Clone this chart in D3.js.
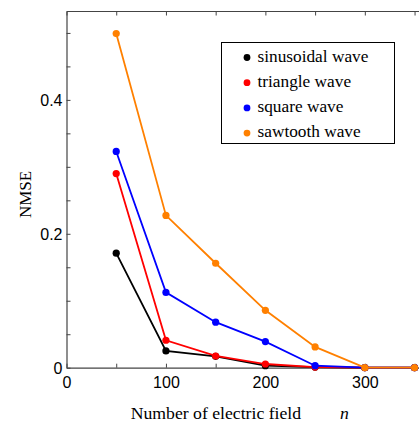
<!DOCTYPE html>
<html><head><meta charset="utf-8">
<script src="https://cdn.jsdelivr.net/npm/d3@7"></script>
<style>body{margin:0;background:#fff;}svg{display:block;}
.sans{font-family:"Liberation Sans", Arial, sans-serif;}
.serif{font-family:"Liberation Serif", "Times New Roman", serif;}
</style>
</head><body>
<svg id="c" width="419" height="423"></svg>
<script>
const nValues = [50, 100, 150, 200, 250, 300, 350];
const sinusoidal = [0.171, 0.025, 0.017, 0.003, 0.001, 0, 0];
const triangle = [0.290, 0.041, 0.0175, 0.0055, 0.001, 0, 0];
const square = [0.323, 0.1125, 0.068, 0.039, 0.003, 0, 0];
const sawtooth = [0.499, 0.2275, 0.156, 0.0857, 0.031, 0, 0];
const seriesNames = ["sinusoidal wave", "triangle wave", "square wave", "sawtooth wave"];
const seriesColors = ["#000000", "#ff0000", "#0000ff", "#ff8000"];
const xTickLabels = [0, 100, 200, 300];
const yTickLabels = [0, 0.2, 0.4];

const series = [sinusoidal, triangle, square, sawtooth];
const svg = d3.select("#c");
const L = 66.5, T = 11.5, B = 367.7, R = 423;
const x = d3.scaleLinear().domain([0, 358.5]).range([L, R]);
const y = d3.scaleLinear().domain([0, 0.532]).range([B, T]);
const axisColor = "#444";

// frame
svg.append("line").attr("x1", L).attr("x2", R).attr("y1", T).attr("y2", T).attr("stroke", axisColor).attr("stroke-width", 1.2);
svg.append("line").attr("x1", R).attr("x2", R).attr("y1", T).attr("y2", B).attr("stroke", axisColor).attr("stroke-width", 1.2);

// bottom axis
const xAxis = d3.axisBottom(x).tickValues(d3.range(0, 351, 50)).tickSizeInner(-4).tickSizeOuter(0)
  .tickFormat(d => xTickLabels.includes(d) ? d : "");
const gx = svg.append("g").attr("transform", `translate(0,${B})`).call(xAxis);
gx.attr("font-family", null).attr("font-size", null);
gx.select(".domain").attr("stroke", axisColor).attr("stroke-width", 1.2);
gx.selectAll(".tick line").attr("stroke", axisColor);
gx.selectAll(".tick text").attr("class", "sans").attr("font-size", 16).attr("fill", "#000").attr("y", 9).attr("dy", "0.71em");

// top ticks
const xTop = d3.axisTop(x).tickValues(d3.range(0, 351, 50)).tickSizeInner(-4).tickSizeOuter(0).tickFormat("");
const gt = svg.append("g").attr("transform", `translate(0,${T})`).call(xTop);
gt.select(".domain").remove();
gt.selectAll(".tick line").attr("stroke", axisColor);

// left axis
const yAxis = d3.axisLeft(y).tickValues(d3.range(0, 0.51, 0.05)).tickSizeInner(-4).tickSizeOuter(0)
  .tickFormat(d => { const m = yTickLabels.find(v => Math.abs(v - d) < 1e-6); return m !== undefined ? String(m) : ""; });
const gy = svg.append("g").attr("transform", `translate(${L},0)`).call(yAxis);
gy.attr("font-family", null).attr("font-size", null);
gy.select(".domain").attr("stroke", axisColor).attr("stroke-width", 1.2);
gy.selectAll(".tick line").attr("stroke", axisColor);
gy.selectAll(".tick text").attr("class", "sans").attr("font-size", 16).attr("fill", "#000").attr("x", -4).attr("dy", "0.36em");

// right ticks
const yRight = d3.axisRight(y).tickValues(d3.range(0, 0.51, 0.05)).tickSizeInner(-4).tickSizeOuter(0).tickFormat("");
const gr = svg.append("g").attr("transform", `translate(${R},0)`).call(yRight);
gr.select(".domain").remove();
gr.selectAll(".tick line").attr("stroke", axisColor);

// series
const line = d3.line().x((d, i) => x(nValues[i])).y(d => y(d));
series.forEach((s, k) => {
  svg.append("path").attr("d", line(s)).attr("fill", "none").attr("stroke", seriesColors[k]).attr("stroke-width", 1.8);
  svg.append("g").selectAll("circle").data(s).join("circle")
    .attr("cx", (d, i) => x(nValues[i])).attr("cy", d => y(d)).attr("r", 3.6).attr("fill", seriesColors[k]);
});

// legend
const lg = svg.append("g");
lg.append("rect").attr("x", 221.5).attr("y", 42.5).attr("width", 173).attr("height", 101)
  .attr("fill", "#fff").attr("stroke", "#000").attr("stroke-width", 1);
seriesNames.forEach((nm, k) => {
  const cy = 57.5 + k * 25.2;
  lg.append("circle").attr("cx", 247).attr("cy", cy).attr("r", 3.4).attr("fill", seriesColors[k]);
  lg.append("text").attr("class", "serif").attr("x", 257.5).attr("y", cy).attr("dy", "0.25em")
    .attr("font-size", 17.3).attr("fill", "#000").text(nm);
});

// axis titles
svg.append("text").attr("class", "serif").attr("transform", "translate(30.5,194.5) rotate(-90)").attr("text-anchor", "middle")
  .attr("font-size", 17).attr("fill", "#000").text("NMSE");
const xt = svg.append("text").attr("class", "serif").attr("x", 130.7).attr("y", 418.5)
  .attr("font-size", 17.7).attr("fill", "#000");
xt.append("tspan").text("Number of electric field");
xt.append("tspan").attr("x", 340).attr("font-style", "italic").text("n");
</script>
</body></html>
